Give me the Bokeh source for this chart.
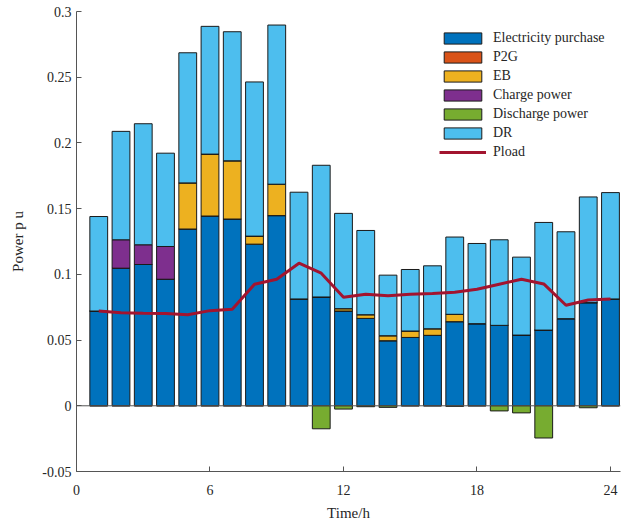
from bokeh.plotting import figure
from bokeh.models import ColumnDataSource, FixedTicker, Legend, LegendItem, Span, Range1d
from bokeh.embed import file_html
from bokeh.resources import INLINE

hours = list(range(1, 25))
elec = [0.0721, 0.1047, 0.1075, 0.0963, 0.1345, 0.1444, 0.1421, 0.1230, 0.1447, 0.0813, 0.0828, 0.0721,
        0.0665, 0.0495, 0.0520, 0.0536, 0.0640, 0.0625, 0.0612, 0.0538, 0.0576, 0.0663, 0.0785, 0.0813]
p2g = [0.0] * 24
eb = [0, 0, 0, 0, 0.0351, 0.0471, 0.0443, 0.0061, 0.0239, 0, 0, 0.0018,
      0.0028, 0.0038, 0.0049, 0.0050, 0.0056, 0, 0, 0, 0, 0, 0, 0]
charge = [0, 0.0216, 0.0150, 0.0249, 0, 0, 0, 0, 0, 0, 0, 0,
          0, 0, 0, 0, 0, 0, 0, 0, 0, 0, 0, 0]
discharge = [0, 0, 0, 0, 0, 0, 0, 0, 0, 0, -0.0175, -0.0025,
             -0.0007, -0.0012, 0, 0, -0.0004, 0, -0.0039, -0.0054, -0.0245, 0, -0.0015, 0]
dr = [0.0719, 0.0825, 0.0921, 0.0710, 0.0990, 0.0972, 0.0982, 0.1173, 0.1211, 0.0812, 0.1002, 0.0725,
      0.0641, 0.0461, 0.0468, 0.0479, 0.0588, 0.0610, 0.0651, 0.0593, 0.0819, 0.0661, 0.0804, 0.0809]
pload = [0.0722, 0.0708, 0.0704, 0.0703, 0.0693, 0.0724, 0.0734, 0.0925, 0.0963, 0.1085, 0.1009, 0.0826,
         0.0849, 0.0838, 0.0849, 0.0854, 0.0864, 0.0887, 0.0925, 0.0963, 0.0927, 0.0765, 0.0805, 0.0813]

x_ticks = [0, 6, 12, 18, 24]
y_ticks = [-0.05, 0, 0.05, 0.1, 0.15, 0.2, 0.25, 0.3]
y_tick_labels = {-0.05: "-0.05", 0: "0", 0.05: "0.05", 0.1: "0.1", 0.15: "0.15",
                 0.2: "0.2", 0.25: "0.25", 0.3: "0.3"}

colors = {"elec": "#0072BD", "p2g": "#D95319", "eb": "#EDB120", "charge": "#7E2F8E",
          "discharge": "#77AC30", "dr": "#4DBEEE", "pload": "#A2142F"}
FONT = "Liberation Serif"
EDGE = "#1a1a1a"

p = figure(frame_width=544, frame_height=460, output_backend="svg", toolbar_location=None,
           x_range=Range1d(0, 24.45), y_range=Range1d(-0.05, 0.3),
           min_border_left=76, min_border_top=11, min_border_right=1, min_border_bottom=53)
p.background_fill_color = "white"
p.border_fill_color = "white"
p.outline_line_color = None
p.xgrid.visible = False
p.ygrid.visible = False

src = ColumnDataSource(dict(x=hours, elec=elec, p2g=p2g, eb=eb, charge=charge, dr=dr, discharge=discharge))
stack_names = ["elec", "p2g", "eb", "charge", "dr"]
renderers = p.vbar_stack(stack_names, x="x", width=0.8, source=src,
                         fill_color=[colors[n] for n in stack_names],
                         line_color=EDGE, line_width=1)
rmap = dict(zip(stack_names, renderers))
rdis = p.vbar(x="x", top="discharge", bottom=0, width=0.8, source=src,
              fill_color=colors["discharge"], line_color=EDGE, line_width=1)

p.add_layout(Span(location=0, dimension="width", line_color="#555555", line_width=1))

rline = p.line(hours, pload, line_color=colors["pload"], line_width=3)

items = [
    LegendItem(label="Electricity purchase", renderers=[rmap["elec"]]),
    LegendItem(label="P2G", renderers=[rmap["p2g"]]),
    LegendItem(label="EB", renderers=[rmap["eb"]]),
    LegendItem(label="Charge power", renderers=[rmap["charge"]]),
    LegendItem(label="Discharge power", renderers=[rdis]),
    LegendItem(label="DR", renderers=[rmap["dr"]]),
    LegendItem(label="Pload", renderers=[rline]),
]
legend = Legend(items=items, location=(363, 310), padding=0, margin=0, spacing=0,
                glyph_width=47, glyph_height=14, label_height=19, label_standoff=7,
                label_text_font=FONT, label_text_font_size="14px", label_text_color="#262626",
                border_line_color=None, background_fill_alpha=0)
p.add_layout(legend, "center")

for ax in (p.xaxis[0], p.yaxis[0]):
    ax.axis_line_color = "#555555"
    ax.major_tick_line_color = "#555555"
    ax.major_tick_in = 5
    ax.major_tick_out = 0
    ax.minor_tick_line_color = None
    ax.major_label_text_font = FONT
    ax.major_label_text_font_size = "14px"
    ax.major_label_text_color = "#262626"
    ax.axis_label_text_font = FONT
    ax.axis_label_text_font_size = "15px"
    ax.axis_label_text_font_style = "normal"
    ax.axis_label_text_color = "#262626"

p.xaxis.ticker = FixedTicker(ticks=x_ticks)
p.yaxis.ticker = FixedTicker(ticks=y_ticks)
p.yaxis.major_label_overrides = y_tick_labels
p.xaxis.axis_label = "Time/h"
p.yaxis.axis_label = "Power p u"
p.xaxis.major_label_standoff = 13
p.yaxis.major_label_standoff = 5
p.xaxis.axis_label_standoff = 7
p.yaxis.axis_label_standoff = 13

open("out.html", "w").write(file_html(p, INLINE))
